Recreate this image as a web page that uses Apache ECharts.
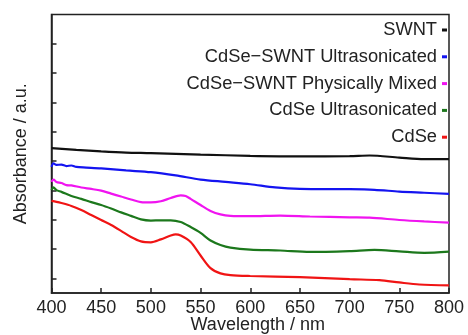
<!DOCTYPE html>
<html>
<head>
<meta charset="utf-8">
<script src="https://cdn.jsdelivr.net/npm/echarts@6/dist/echarts.min.js"></script>
<style>
  html, body { margin: 0; padding: 0; background: #fff; }
  #chart { width: 468px; height: 335px; }
</style>
</head>
<body>
<div id="chart"></div>
<script>
// wavelength ticks
const xTicks = [400, 450, 500, 550, 600, 650, 700, 750, 800];
const yTickValues = [0.5, 1.5, 2.5, 3.5, 4.5, 5.5, 6.5, 7.5, 8.5];

const seriesNames = [
    'SWNT',
    'CdSe\u2212SWNT Ultrasonicated',
    'CdSe\u2212SWNT Physically Mixed',
    'CdSe Ultrasonicated',
    'CdSe'
];
const seriesColors = ['#111111', '#1414f0', '#f014f0', '#1c781c', '#f01414'];

// SWNT
const swntWl = [400, 425, 450, 475, 500, 550, 600, 650, 700, 720, 750, 775, 800];
const swntAbs = [4.94, 4.88, 4.83, 4.79, 4.77, 4.72, 4.68, 4.66, 4.67, 4.69, 4.62, 4.57, 4.57];

// CdSe-SWNT ultrasonicated
const usWl = [400, 402, 405, 410, 415, 420, 425, 435, 450, 475, 500, 525, 550, 575, 600, 625, 650, 700, 725, 750, 775, 800];
const usAbs = [4.30, 4.42, 4.37, 4.38, 4.33, 4.35, 4.30, 4.28, 4.25, 4.18, 4.12, 4.01, 3.87, 3.79, 3.71, 3.60, 3.55, 3.54, 3.52, 3.46, 3.42, 3.38];

// CdSe-SWNT physically mixed
const pmWl = [400, 402, 405, 410, 415, 420, 430, 440, 450, 460, 470, 480, 490, 500, 510, 520, 530, 535, 540, 550, 560, 570, 580, 600, 630, 660, 700, 720, 750, 775, 800];
const pmAbs = [3.79, 3.87, 3.79, 3.75, 3.68, 3.67, 3.60, 3.55, 3.49, 3.39, 3.29, 3.19, 3.10, 3.09, 3.13, 3.24, 3.33, 3.31, 3.21, 3.00, 2.80, 2.68, 2.63, 2.62, 2.64, 2.61, 2.58, 2.57, 2.49, 2.44, 2.40];

// CdSe ultrasonicated
const cuWl = [400, 402, 405, 410, 420, 430, 440, 450, 460, 470, 480, 490, 500, 510, 520, 530, 540, 550, 560, 570, 580, 600, 630, 660, 700, 725, 750, 775, 800];
const cuAbs = [3.51, 3.60, 3.51, 3.45, 3.31, 3.21, 3.10, 3.00, 2.88, 2.75, 2.63, 2.51, 2.47, 2.48, 2.48, 2.42, 2.25, 2.05, 1.79, 1.64, 1.55, 1.48, 1.45, 1.40, 1.43, 1.47, 1.42, 1.37, 1.41];

// CdSe
const cdWl = [400, 405, 410, 420, 430, 440, 450, 460, 470, 480, 490, 500, 510, 520, 525, 530, 540, 550, 560, 570, 580, 600, 650, 700, 730, 750, 770, 800];
const cdAbs = [3.14, 3.11, 3.07, 2.97, 2.83, 2.66, 2.49, 2.32, 2.12, 1.91, 1.76, 1.73, 1.83, 1.96, 2.00, 1.96, 1.74, 1.28, 0.85, 0.67, 0.61, 0.58, 0.54, 0.47, 0.44, 0.36, 0.29, 0.26];

const allWl = [swntWl, usWl, pmWl, cuWl, cdWl];
const allAbs = [swntAbs, usAbs, pmAbs, cuAbs, cdAbs];

const font = '"Liberation Sans", Arial, Helvetica, sans-serif';
const ink = '#222';

const chart = echarts.init(document.getElementById('chart'), null, { renderer: 'canvas' });

const series = seriesNames.map((name, i) => ({
    name: name,
    type: 'line',
    data: allWl[i].map((w, k) => [w, allAbs[i][k]]),
    showSymbol: false,
    smooth: 0.3,
    lineStyle: { color: seriesColors[i], width: 2.2 },
    itemStyle: { color: seriesColors[i] }
}));

chart.setOption({
    animation: false,
    backgroundColor: '#fff',
    textStyle: { fontFamily: font },
    grid: {
        left: 51.5, right: 19, top: 14.5, bottom: 42,
        outerBoundsMode: 'none',
        containLabel: false,
        show: true, borderColor: ink, borderWidth: 1.5
    },
    legend: {
        data: seriesNames,
        orient: 'vertical',
        right: 16,
        top: 16,
        align: 'right',
        itemGap: 8.8,
        itemWidth: 5,
        itemHeight: 3,
        icon: 'rect',
        textStyle: { fontFamily: font, fontSize: 18.3, color: ink }
    },
    xAxis: {
        type: 'value',
        min: 400,
        max: 800,
        interval: 50,
        name: 'Wavelength / nm',
        nameLocation: 'middle',
        nameGap: 23,
        nameMoveOverlap: false,
        nameTextStyle: { fontFamily: font, fontSize: 18, color: ink, padding: [0, 0, 0, 15] },
        axisLine: { show: true, lineStyle: { color: ink, width: 1.5 } },
        axisTick: { show: true, inside: true, length: 5, lineStyle: { color: ink, width: 1.5 } },
        axisLabel: {
            fontFamily: font, fontSize: 18, color: ink, margin: 6,
            customValues: xTicks
        },
        splitLine: { show: false }
    },
    yAxis: {
        type: 'value',
        min: 0,
        max: 9.5,
        name: 'Absorbance / a.u.',
        nameLocation: 'middle',
        nameGap: 21,
        nameMoveOverlap: false,
        nameTextStyle: { fontFamily: font, fontSize: 18, color: ink },
        axisLine: { show: true, lineStyle: { color: ink, width: 1.5 } },
        axisTick: {
            show: true, inside: true, length: 5,
            lineStyle: { color: ink, width: 1.5 },
            customValues: yTickValues
        },
        axisLabel: { show: false },
        splitLine: { show: false }
    },
    series: series
});
</script>
</body>
</html>
